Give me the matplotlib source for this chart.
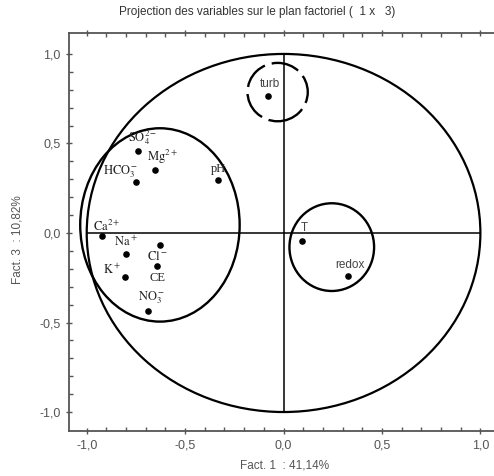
import matplotlib.pyplot as plt
from matplotlib.patches import Ellipse

# variable coordinates on factors 1 and 3
labels = [r'$\mathrm{SO_4^{2-}}$', r'$\mathrm{Mg^{2+}}$', r'$\mathrm{HCO_3^-}$', 'pH',
          r'$\mathrm{Ca^{2+}}$', r'$\mathrm{Na^+}$', r'$\mathrm{Cl^-}$', 'CE',
          r'$\mathrm{K^+}$', r'$\mathrm{NO_3^-}$', 'turb', 'T', 'redox']
fact1 = [-0.741, -0.655, -0.751, -0.335, -0.924, -0.802, -0.629, -0.645,
         -0.807, -0.690, -0.081, 0.096, 0.325]
fact3 = [0.458, 0.352, 0.285, 0.296, -0.017, -0.117, -0.067, -0.184,
         -0.246, -0.436, 0.765, -0.045, -0.240]
# label offsets in pixels
label_dx = [5, 8, -15, 1, 5, 0, -2, 1, -13, 4, 2, 2, 2]
label_dy = [13, 13, 10, 11, 10, 12, -12, -12, 7, 13, 12, 13, 11]
serif_lbl = [True, True, True, True, True, True, True, True, True, True, False, False, False]

# grouping ellipses (center x, center y, width, height, style)
grp_x = [-0.628, 0.245, -0.03]
grp_y = [0.045, -0.079, 0.787]
grp_w = [0.81, 0.43, 0.306]
grp_h = [1.08, 0.49, 0.326]
grp_ls = ['solid', 'solid', (0, (12, 3))]

ticks = [-1.0, -0.5, 0.0, 0.5, 1.0]
tick_labels = ['-1,0', '-0,5', '0,0', '0,5', '1,0']

plt.rcParams['mathtext.fontset'] = 'stix'
gray = '#555555'

fig = plt.figure(figsize=(4.94, 4.76), dpi=100)
ax = fig.add_axes([69 / 494, 45 / 476, 435 / 494, 398 / 476])
ax.set_xlim(-1.09, 1.12)
ax.set_ylim(-1.106, 1.117)

# unit circle and axis lines
ax.add_patch(Ellipse((0, 0), 2, 2, fill=False, color='black', lw=1.6))
ax.plot([-1, 1], [0, 0], color='black', lw=1.1)
ax.plot([0, 0], [-1, 1], color='black', lw=1.1)

for cx, cy, w, h, ls in zip(grp_x, grp_y, grp_w, grp_h, grp_ls):
    ax.add_patch(Ellipse((cx, cy), w, h, fill=False, color='black', lw=1.7, linestyle=ls))

ax.scatter(fact1, fact3, s=14, color='black', zorder=5)
for lab, x, y, dx, dy, ser in zip(labels, fact1, fact3, label_dx, label_dy, serif_lbl):
    if ser:
        ax.annotate(lab, (x, y), xytext=(dx, dy), textcoords='offset pixels',
                    ha='center', va='center', fontsize=9, family='Liberation Serif',
                    color='#222222')
    else:
        ax.annotate(lab, (x, y), xytext=(dx, dy), textcoords='offset pixels',
                    ha='center', va='center', fontsize=8.5, family='Liberation Sans',
                    color='#444444')

ax.set_xticks(ticks)
ax.set_xticklabels(tick_labels)
ax.set_yticks(ticks)
ax.set_yticklabels(tick_labels)
ax.set_xticks([i / 10 for i in range(-10, 11)], minor=True)
ax.set_yticks([i / 10 for i in range(-10, 11)], minor=True)
ax.tick_params(which='both', colors=gray, labelcolor=gray, labelsize=9,
               top=True, right=True)
ax.tick_params(which='major', direction='inout', length=5, width=1)
ax.tick_params(which='minor', direction='in', length=3, width=1)
for lbl in ax.get_xticklabels() + ax.get_yticklabels():
    lbl.set_family('Liberation Sans')
for sp in ax.spines.values():
    sp.set_color(gray)
    sp.set_linewidth(1.3)

fig.text(257 / 494, 1 - 12 / 476, 'Projection des variables sur le plan factoriel (  1 x   3)',
         ha='center', va='center', fontsize=8.5, family='Liberation Sans', color='#333333')
fig.text(285 / 494, 1 - 466 / 476, 'Fact. 1  : 41,14%', ha='center', va='center',
         fontsize=8.5, family='Liberation Sans', color=gray)
fig.text(18 / 494, 1 - 240 / 476, 'Fact. 3  : 10,82%', ha='center', va='center',
         rotation=90, fontsize=8.5, family='Liberation Sans', color=gray)

fig.savefig('out.png', dpi=100)
